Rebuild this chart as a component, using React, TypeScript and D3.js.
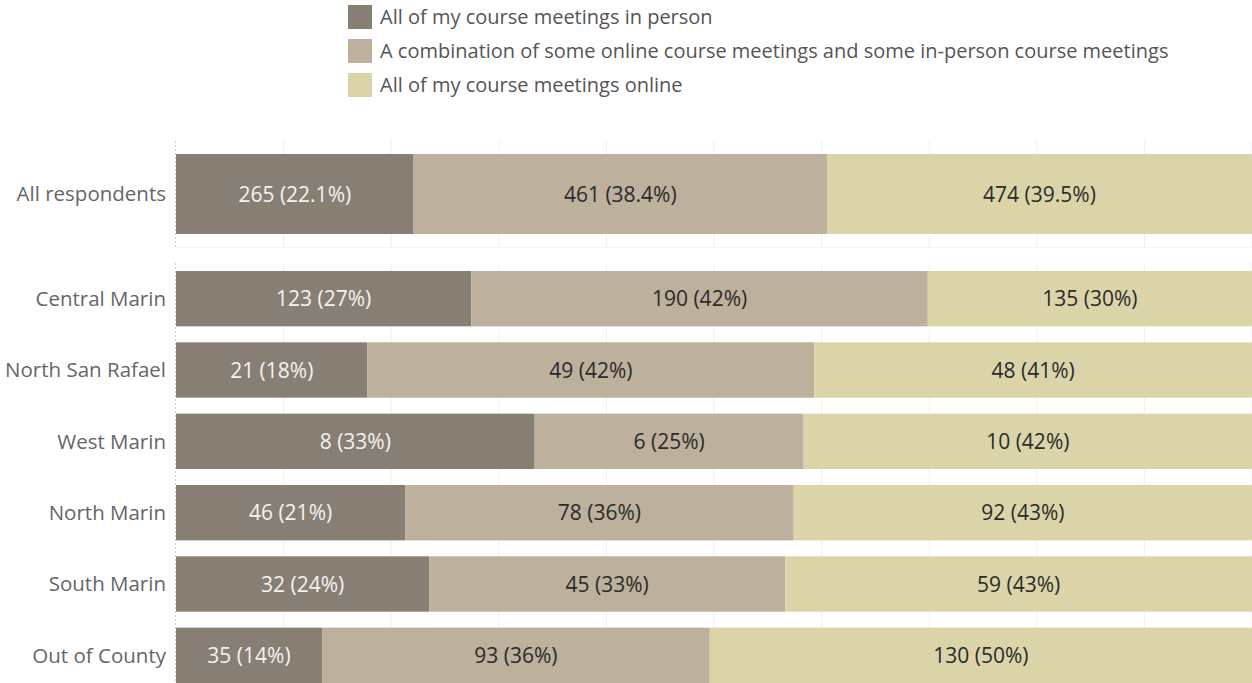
import React from "react";
import * as d3 from "d3";

const seriesNames = [
  "All of my course meetings in person",
  "A combination of some online course meetings and some in-person course meetings",
  "All of my course meetings online",
];
const colors = ["#877f74", "#bdb09c", "#dbd4a9"];
const textColors = ["#f4f2ef", "#2b2b2b", "#2b2b2b"];

const overallLabel = ["All respondents"];
const overallValues = [[265, 461, 474]];
const overallPctLabels = [["22.1%", "38.4%", "39.5%"]];

const regions = ["Central Marin", "North San Rafael", "West Marin", "North Marin", "South Marin", "Out of County"];
const inPerson = [123, 21, 8, 46, 32, 35];
const combination = [190, 49, 6, 78, 45, 93];
const online = [135, 48, 10, 92, 59, 130];
const inPersonPct = ["27%", "18%", "33%", "21%", "24%", "14%"];
const combinationPct = ["42%", "42%", "25%", "36%", "33%", "36%"];
const onlinePct = ["30%", "41%", "42%", "43%", "43%", "50%"];

const gridTicks = [0, 0.1, 0.2, 0.3, 0.4, 0.5, 0.6, 0.7, 0.8, 0.9, 1];

const FONT = "'Open Sans', sans-serif";

export default function App() {
  const W = 1252;
  const H = 683;
  const x = d3.scaleLinear().domain([0, 1]).range([176, 1252]);

  const topY = d3.scaleBand<string>().domain(overallLabel).range([141, 247]).paddingInner(0.14).paddingOuter(0.14);
  const botY = d3.scaleBand<string>().domain(regions).range([263, 691]).paddingInner(0.224).paddingOuter(0.112);

  const rows: { label: string; vals: number[]; pcts: string[]; y: number; h: number }[] = [];
  overallLabel.forEach((l, i) => {
    rows.push({ label: l, vals: overallValues[i], pcts: overallPctLabels[i], y: topY(l)!, h: topY.bandwidth() });
  });
  regions.forEach((r, i) => {
    rows.push({
      label: r,
      vals: [inPerson[i], combination[i], online[i]],
      pcts: [inPersonPct[i], combinationPct[i], onlinePct[i]],
      y: botY(r)!,
      h: botY.bandwidth(),
    });
  });

  return (
    <svg width={W} height={H} style={{ position: "absolute", left: 0, top: 0, background: "#fff" }}>
      {/* legend */}
      {seriesNames.map((s, i) => (
        <g key={s} transform={`translate(348, ${5 + i * 34})`}>
          <rect width={24} height={24} fill={colors[i]} />
          <text x={32} y={19} fontFamily={FONT} fontSize={20} fill="#555">
            {s}
          </text>
        </g>
      ))}

      {/* gridlines */}
      {gridTicks.slice(1).map((t) => (
        <g key={t}>
          <line x1={x(t)} x2={x(t)} y1={141} y2={247} stroke="#efefef" strokeWidth={1} />
          <line x1={x(t)} x2={x(t)} y1={263} y2={683} stroke="#efefef" strokeWidth={1} />
        </g>
      ))}
      <line x1={176} x2={1252} y1={247.5} y2={247.5} stroke="#f2f2f2" strokeWidth={1} />
      <line x1={175.5} x2={175.5} y1={141} y2={247} stroke="#d0d0d0" strokeDasharray="2,2" />
      <line x1={175.5} x2={175.5} y1={263} y2={683} stroke="#d0d0d0" strokeDasharray="2,2" />

      {rows.map((row) => {
        const total = d3.sum(row.vals);
        let cum = 0;
        return (
          <g key={row.label}>
            <text
              x={166}
              y={row.y + row.h / 2}
              dy="0.36em"
              textAnchor="end"
              fontFamily={FONT}
              fontSize={20.5}
              fill="#666"
            >
              {row.label}
            </text>
            {row.vals.map((v, j) => {
              const x0 = x(cum / total);
              cum += v;
              const x1 = x(cum / total);
              return (
                <g key={j}>
                  <rect x={x0} y={row.y} width={x1 - x0} height={row.h} fill={colors[j]} />
                  <text
                    x={(x0 + x1) / 2}
                    y={row.y + row.h / 2}
                    dy="0.36em"
                    textAnchor="middle"
                    fontFamily={FONT}
                    fontSize={21}
                    fill={textColors[j]}
                  >
                    {`${v} (${row.pcts[j]})`}
                  </text>
                </g>
              );
            })}
          </g>
        );
      })}
    </svg>
  );
}
